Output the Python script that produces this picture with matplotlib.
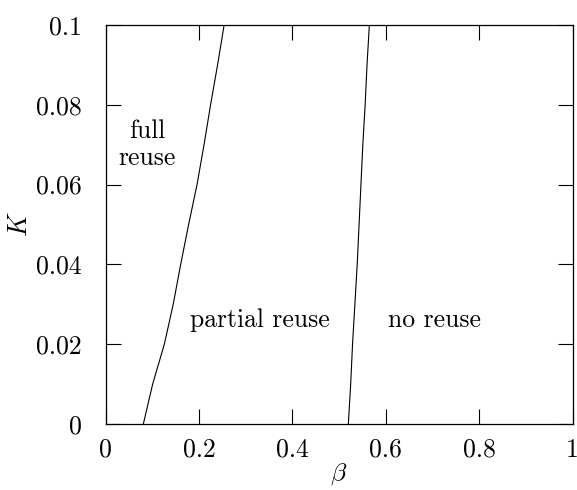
import matplotlib
matplotlib.use("Agg")
import matplotlib.pyplot as plt

plt.rcParams['font.family'] = ['cmr10', 'DejaVu Serif']
plt.rcParams['mathtext.fontset'] = 'cm'
plt.rcParams['axes.formatter.use_mathtext'] = True

# boundary between full reuse and partial reuse
K_vals = [0.0, 0.01, 0.02, 0.03, 0.04, 0.05, 0.06, 0.07, 0.08, 0.09, 0.1]
beta_full = [0.081, 0.101, 0.126, 0.145, 0.161, 0.178, 0.196, 0.211, 0.225, 0.240, 0.254]
# boundary between partial reuse and no reuse
beta_none = [0.520, 0.525, 0.529, 0.534, 0.539, 0.543, 0.547, 0.551, 0.556, 0.560, 0.565]

x_ticks = [0, 0.2, 0.4, 0.6, 0.8, 1]
x_labels = ['0', '0.2', '0.4', '0.6', '0.8', '1']
y_ticks = [0, 0.02, 0.04, 0.06, 0.08, 0.1]
y_labels = ['0', '0.02', '0.04', '0.06', '0.08', '0.1']

fig = plt.figure(figsize=(5.77, 4.90), dpi=100)
ax = fig.add_axes([105.5 / 577, (490 - 424) / 490, 467 / 577, 399 / 490])

ax.plot(beta_full, K_vals, color='black', lw=0.8)
ax.plot(beta_none, K_vals, color='black', lw=0.8)

ax.set_xlim(0, 1)
ax.set_ylim(0, 0.1)
ax.set_xticks(x_ticks)
ax.set_xticklabels(x_labels)
ax.set_yticks(y_ticks)
ax.set_yticklabels(y_labels)
ax.tick_params(direction='in', length=11, width=0.8, top=True, right=True,
               labelsize=18.5)
ax.tick_params(axis='x', pad=10)
ax.tick_params(axis='y', pad=17)
for s in ax.spines.values():
    s.set_linewidth(0.9)

ax.set_xlabel(r'$\beta$', fontsize=18.5, labelpad=0)
ax.set_ylabel(r'$K$', fontsize=19, labelpad=3)

ax.text(0.09, 0.07, 'full\nreuse', ha='center', va='center', fontsize=18.5,
        linespacing=1.2)
ax.text(0.331, 0.026, 'partial reuse', ha='center', va='center', fontsize=18.5)
ax.text(0.705, 0.026, 'no reuse', ha='center', va='center', fontsize=18.5)

fig.savefig('out.png', dpi=100)
